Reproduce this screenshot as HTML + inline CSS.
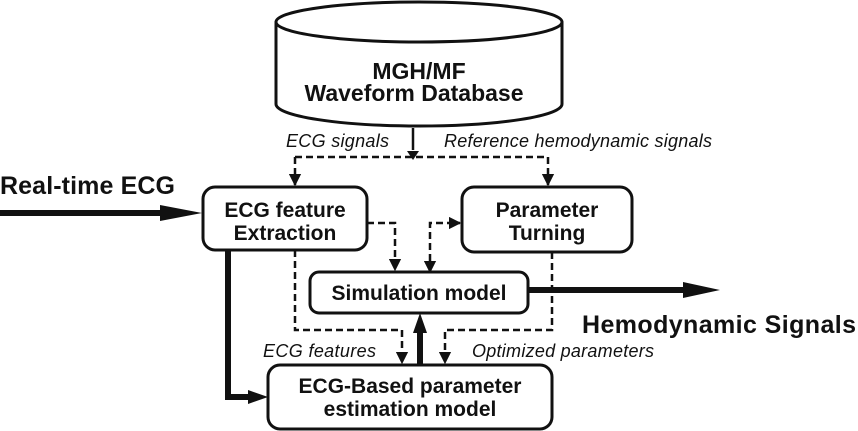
<!DOCTYPE html>
<html><head><style>
body{margin:0;background:#fff;}
svg{display:block;}
text{font-family:"Liberation Sans",Arial,sans-serif;fill:#111;}
.b{font-weight:bold;}
.i{font-style:italic;font-size:18px;}
</style></head><body>
<svg width="858" height="431" viewBox="0 0 858 431">
<defs>
<marker id="ah" viewBox="0 0 10 10" refX="9" refY="5" markerWidth="5" markerHeight="5" orient="auto-start-reverse"><path d="M0,0L10,5L0,10z" fill="#111"/></marker>
</defs>
<g fill="#fff" stroke="#111" stroke-width="3">
<path d="M276,22 L276,104 A143,22 0 0 0 562,104 L562,22"/>
<ellipse cx="419" cy="22" rx="143" ry="20"/>
<rect x="203" y="187" width="164" height="63" rx="12"/>
<rect x="462" y="187" width="170" height="65" rx="12"/>
<rect x="310" y="272" width="218" height="41" rx="9"/>
<rect x="268" y="365" width="284" height="64" rx="12"/>
</g>
<text class="b" font-size="23" x="419" y="79" text-anchor="middle">MGH/MF</text>
<text class="b" font-size="23" x="414" y="101" text-anchor="middle">Waveform Database</text>
<text class="b" font-size="21" x="285" y="217" text-anchor="middle">ECG feature</text>
<text class="b" font-size="21" x="285" y="240" text-anchor="middle">Extraction</text>
<text class="b" font-size="21" x="547" y="217" text-anchor="middle">Parameter</text>
<text class="b" font-size="21" x="547" y="240" text-anchor="middle">Turning</text>
<text class="b" font-size="21" x="419" y="300" text-anchor="middle">Simulation model</text>
<text class="b" font-size="21" x="410" y="393" text-anchor="middle">ECG-Based parameter</text>
<text class="b" font-size="21" x="410" y="416" text-anchor="middle">estimation model</text>
<text class="b" font-size="25" x="0" y="194" textLength="175">Real-time ECG</text>
<text class="b" font-size="25" x="582" y="333" textLength="274">Hemodynamic Signals</text>
<text class="i" x="286" y="147" textLength="103">ECG signals</text>
<text class="i" x="444" y="147" textLength="268">Reference hemodynamic signals</text>
<text class="i" x="263" y="357" textLength="113">ECG features</text>
<text class="i" x="472" y="357" textLength="182">Optimized parameters</text>
<g fill="none" stroke="#111" stroke-width="2.5">
<line x1="413" y1="128" x2="413" y2="150"/>
</g>
<g fill="none" stroke="#111" stroke-width="2.5" stroke-dasharray="7,4">
<path d="M295,157 L548,157"/>
<path d="M295,157 L295,185" marker-end="url(#ah)"/>
<path d="M548,157 L548,185" marker-end="url(#ah)"/>
<path d="M367,223 L395,223 L395,270" marker-end="url(#ah)"/>
<path d="M430,272 L430,223 L460,223" marker-end="url(#ah)" marker-start="url(#ah)"/>
<path d="M295,250 L295,330 L402,330 L402,363" marker-end="url(#ah)"/>
<path d="M552,252 L552,330 L445,330 L445,363" marker-end="url(#ah)"/>
</g>
<path d="M407,151 L419,151 L413,160z" fill="#111"/>
<g fill="none" stroke="#111" stroke-width="6">
<path d="M0,213 L165,213"/>
<path d="M228,250 L228,397 L250,397"/>
<path d="M420,365 L420,330"/>
<path d="M528,290 L690,290"/>
</g>
<path d="M160,205 L202,213 L160,221z" fill="#111"/>
<path d="M248,390 L268,397 L248,404z" fill="#111"/>
<path d="M413,333 L420,313 L427,333z" fill="#111"/>
<path d="M683,282 L720,290 L683,298z" fill="#111"/>
</svg>
</body></html>
